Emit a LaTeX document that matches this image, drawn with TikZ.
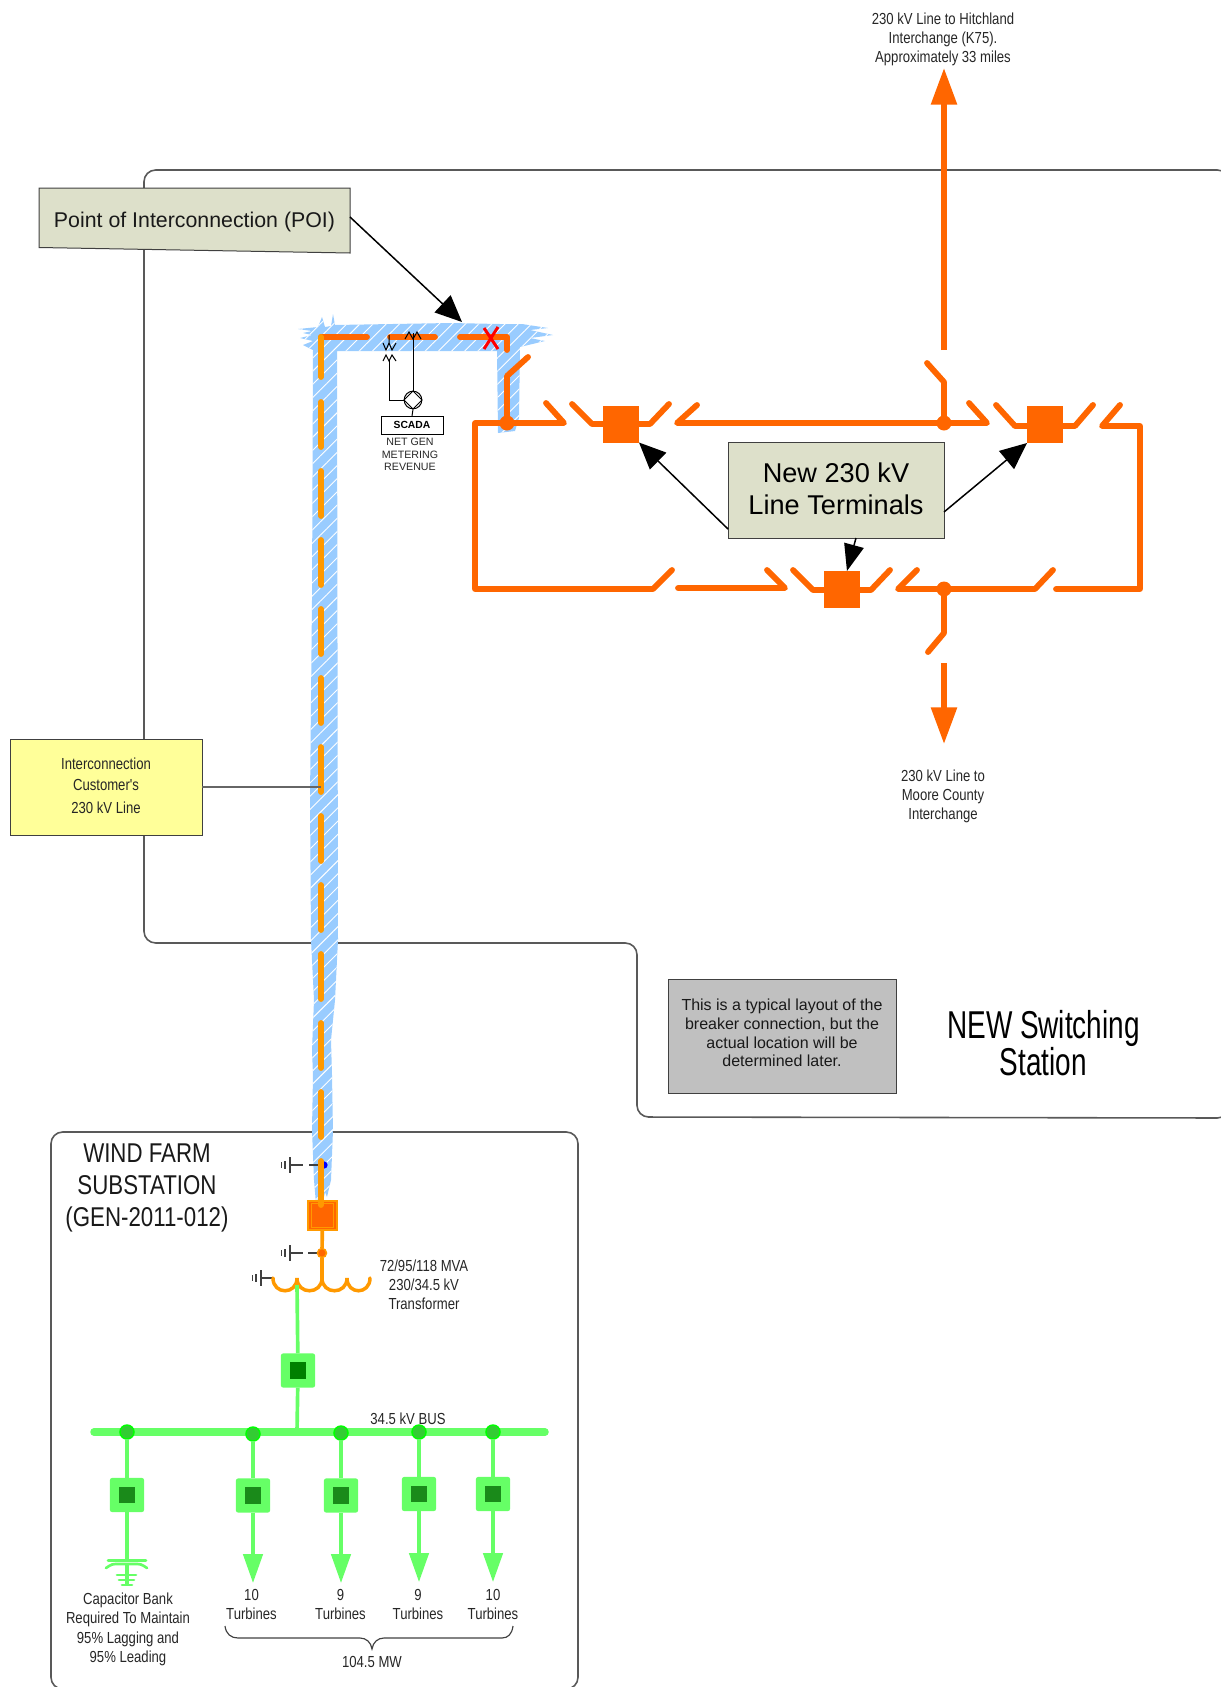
\documentclass[tikz,border=0pt]{standalone}
\usepackage{fontspec}
\setmainfont{Liberation Sans}
\newfontfamily\narrowfont[FakeStretch=0.82]{Liberation Sans}
\newfontfamily\headfont[FakeStretch=0.72]{Liberation Sans}
\usetikzlibrary{arrows.meta, patterns.meta, calc}

\definecolor{lineorange}{HTML}{FF6600}
\definecolor{lineamber}{HTML}{FF9900}
\definecolor{linegreen}{HTML}{66FF66}
\definecolor{coregreen}{HTML}{1A8A1A}
\definecolor{dotgreen}{HTML}{33CC33}
\definecolor{rowblue}{HTML}{99CCFF}
\definecolor{noteolive}{HTML}{DDE0CA}
\definecolor{noteyellow}{HTML}{FFFF99}
\definecolor{notegrey}{HTML}{C0C0C0}
\definecolor{framegrey}{HTML}{595959}

\tikzset{
  frameline/.style={draw=framegrey, line width=0.95pt, rounded corners=7pt},
  notebox/.style={draw=black!75, line width=0.55pt, inner sep=0, outer sep=0},
  smalltext/.style={font=\narrowfont\fontsize{9.6pt}{11.4pt}\selectfont, align=center, inner sep=0, text=black!85},
  bigtext/.style={font=\narrowfont\fontsize{16.3pt}{19.4pt}\selectfont, align=center, inner sep=0, text=black!90},
  hvbus/.style={draw=lineorange, line width=3.5pt, line cap=round, line join=round},
  amberline/.style={draw=lineamber, line width=3.5pt, line cap=round},
  greenline/.style={draw=linegreen, line width=2.2pt},
  pointer/.style={draw=black, line width=0.9pt, -{Triangle[length=16pt, width=14pt]}},
  feedhead/.style={-{Triangle[length=17.4pt, width=11.6pt]}},
  hvhead/.style={-{Triangle[length=22pt, width=15pt]}},
  hvbreaker/.style={fill=lineorange, inner sep=0, outer sep=0, minimum width=21.6pt, minimum height=22.2pt},
  hvdot/.style={circle, fill=lineorange, inner sep=0, outer sep=0, minimum size=9pt},
  lvbreaker/.style={fill=linegreen, rounded corners=1.5pt, inner sep=0, outer sep=0, minimum size=20.6pt},
  lvcore/.style={fill=coregreen, inner sep=0, minimum size=9.8pt},
  lvdot/.style={circle, fill=dotgreen, draw=green, line width=0.9pt, inner sep=0, outer sep=0, minimum size=8.4pt},
  thinwire/.style={draw=black, line width=0.6pt},
  gndwire/.style={draw=black!75, line width=0.75pt},
}

\begin{document}
\begin{tikzpicture}[x=0.6pt, y=-0.6pt]
\clip[use as bounding box] (0,0) rectangle (1221,1687);

% outlines of the two yards
\draw[frameline] (1229,215) -- (1229,170) -- (144,170) -- (144,943) -- (637,943) -- (637,1117) -- (1229,1118) -- (1229,1090);
\draw[frameline] (51,1689) -- (51,1132) -- (578,1132) -- (578,1689) -- cycle;

% hatched 230 kV customer line
\path[pattern={Lines[angle=45, distance=5.6pt, line width=0.55pt]}, pattern color=white, preaction={fill=rowblue}]
  (298,329) -- (318,327) -- (322,317) -- (325,327) -- (331,326) -- (333,314) -- (335,325) -- (450,323) -- (500,324) -- (522,324)
  -- (548,328) -- (530,330) -- (553,335) -- (530,338) -- (545,341) -- (520,347) -- (519,418) -- (515,431) -- (498,433) -- (497,351)
  -- (337,351) -- (338,940) -- (335,1000) -- (331,1040) -- (332,1075) -- (333,1130) -- (331,1180) -- (327,1197) -- (325,1192)
  -- (322,1207) -- (319,1194) -- (316,1204) -- (314,1180) -- (312,1130) -- (313,1075) -- (312,1050) -- (314,1000) -- (311,940)
  -- (310,800) -- (312,600) -- (313,350) -- (303,345) -- (313,341) -- (300,338) -- (312,335) -- (303,333) -- (312,331) -- cycle;

% joints of the ring bus
\foreach \cname/\cx/\cy in {
  nw/475/423, sw/475/589, ne/1140/426, se/1140/589,
  hookA/546/403, noseA/564/423, hookB/697/405, noseB/677/423,
  hookC/969/403, noseC/987/423, hookD/1120/405, noseD/1102/426,
  bladeA/672/570, kneeA/653/589, startE/678/588, noseE/785/588, hookE/767/570,
  hookF/917/570, noseF/898/589, kneeF/1035/589, bladeF/1053/570, startG/1056/589,
  wingA/572/404, elbowA/592/424, elbowB/650/424, wingB/669/404,
  wingC/996/405, elbowC/1015/426, elbowD/1075/426, wingD/1093/405,
  wingE/793/570, elbowE/813/590, elbowF/871/590, wingF/890/570,
  pivotP/507/376, tipP/528/357, pivotN/944/382, tipN/927/363,
  pivotS/944/633, tipS/928/652, hitchS/944/350, hitchE/944/68, mooreS/944/663, mooreE/944/744}
  {\coordinate (\cname) at (\cx,\cy);}

% ring bus
\draw[hvbus] (hookA) -- (noseA) -- (nw) -- (sw) -- (kneeA) -- (bladeA);
\draw[hvbus] (startE) -- (noseE) -- (hookE);
\draw[hvbus] (hookB) -- (noseB) -- (noseC) -- (hookC);
\draw[hvbus] (hookD) -- (noseD) -- (ne) -- (se) -- (startG);
\draw[hvbus] (hookF) -- (noseF) -- (kneeF) -- (bladeF);
\draw[hvbus] (wingA) -- (elbowA) -- (elbowB) -- (wingB);
\draw[hvbus] (wingC) -- (elbowC) -- (elbowD) -- (wingD);
\draw[hvbus] (wingE) -- (elbowE) -- (elbowF) -- (wingF);

% breakers and tee points
\node[hvbreaker] (bkWest) at (621,424) {};
\node[hvbreaker] (bkEast) at (1045,424.5) {};
\node[hvbreaker] (bkSouth) at (842,589.5) {};
\node[hvdot] (teeP) at (507,423) {};
\node[hvdot] (teeN) at (944,423) {};
\node[hvdot] (teeS) at (944,589) {};

\draw[hvbus] (teeP) -- (pivotP) -- (tipP);
\draw[hvbus] (teeN) -- (pivotN) -- (tipN);
\draw[hvbus] (teeS) -- (pivotS) -- (tipS);
\draw[hvbus, line cap=butt, hvhead] (hitchS) -- (hitchE);
\draw[hvbus, line cap=butt, hvhead] (mooreS) -- (mooreE);

% dashes of the customer line
\coordinate (cornerW) at (321,337);
\coordinate (dashA) at (367,337);
\coordinate (dashB) at (390,337);
\coordinate (dashC) at (435,337);
\coordinate (dashD) at (460,337);
\coordinate (cornerE) at (507,337);
\coordinate (stubE) at (507,350);
\draw[hvbus] (cornerW) -- (dashA);
\draw[hvbus] (dashB) -- (dashC);
\draw[hvbus] (dashD) -- (cornerE) -- (stubE);
\draw[amberline] (321,337) -- (321,377);
\foreach \k in {0,...,10}
  \draw[amberline] (321,{402+69*\k}) -- (321,{447+69*\k});

% red cross
\draw[draw=red, line width=1.8pt] (484,328) -- (498,349) (498,327) -- (484,349);

% metering
\node[draw=black, line width=0.55pt, inner sep=0, outer sep=0, minimum width=37.2pt, minimum height=10.8pt, font=\bfseries\fontsize{6.2pt}{7pt}\selectfont] (scada) at (412,425) {SCADA};
\node[circle, draw=black, line width=0.6pt, inner sep=0, minimum size=10.6pt] (meter) at (413,400) {};
\draw[thinwire] ($(meter.center)+(-9,0)$) -- ++(9,-9) -- ++(9,9) -- ++(-9,9) -- cycle;
\draw[thinwire] (meter.north) -- (413,333);
\draw[thinwire] (405,339) -- (409,332) -- (413,339) -- (417,332) -- (421,339);
\draw[thinwire] (389,335) -- (389,343) (383,343) -- (386,350) -- (389,343) -- (392,350) -- (396,343);
\draw[thinwire] (383,361) -- (386,355) -- (389,361) -- (392,355) -- (396,361);
\draw[thinwire] (389,360) -- (389,400) -- (meter.west);
\draw[thinwire] (meter.south) -- (scada.north);
\node[font=\fontsize{6.4pt}{7.5pt}\selectfont, align=center, inner sep=0, text=black!85] (netgen) at (410,454.5) {NET GEN\\METERING\\REVENUE};

% notes
\path[fill=noteolive, draw=black!75, line width=0.6pt] (39,188) -- (350,188) -- (350,253) -- (39,247.5) -- cycle;
\node[font=\fontsize{12.8pt}{15pt}\selectfont, inner sep=0, text=black!90] (poi) at (194.5,222) {Point of Interconnection (POI)};
\coordinate (poiout) at (350,217);
\coordinate (poitip) at (462,322);
\draw[pointer] (poiout) -- (poitip);

\node[notebox, fill=noteolive, minimum width=129.6pt, minimum height=57.6pt] (terminals) at (836,490) {};
\node[font=\fontsize{16.3pt}{19pt}\selectfont, align=center, inner sep=0] (terminaltext) at (836,489) {New 230 kV\\Line Terminals};
\coordinate (tmW) at (728,529);
\coordinate (tmE) at (944,512);
\coordinate (tmS) at (856,538);
\draw[pointer] (tmW) -- (bkWest.south east);
\draw[pointer] (tmE) -- (bkEast.south west);
\draw[pointer, -{Triangle[length=16pt, width=12pt]}] (tmS) -- (bkSouth.75);

\node[notebox, fill=noteyellow, minimum width=115.2pt, minimum height=57.6pt] (customer) at (106,787) {};
\node[smalltext] (customertext) at (106,785.5) {Interconnection\\[1.2pt]Customer's\\[2.4pt]230 kV Line};
\coordinate (customerline) at (321,787);
\draw[draw=black!60, line width=0.8pt] (customer) -- (customerline);

\node[notebox, fill=notegrey, minimum width=136.8pt, minimum height=68.4pt] (layout) at (782,1036) {};
\node[font=\fontsize{9.6pt}{11.3pt}\selectfont, align=center, inner sep=0, text=black!90] (layouttext) at (782,1033) {This is a typical layout of the\\breaker connection, but the\\actual location will be\\determined later.};
\node[font=\headfont\fontsize{23.3pt}{22.6pt}\selectfont, align=center, inner sep=0] (newstation) at (1043.5,1043) {NEW Switching\\Station};

\node[smalltext] (hitch) at (943,39) {230 kV Line to Hitchland\\Interchange (K75).\\Approximately 33 miles};
\node[smalltext] (moore) at (943,796) {230 kV Line to\\Moore County\\Interchange};

% wind farm substation
\node[bigtext] (farm) at (147,1188) {WIND FARM\\SUBSTATION\\(GEN-2011-012)};

\foreach \gx/\gy in {290/1165, 290/1253, 261/1278} {
  \draw[gndwire] (\gx,\gy-8) -- (\gx,\gy+8);
  \draw[gndwire] (\gx-5,\gy-4) -- (\gx-5,\gy+4);
  \draw[gndwire] (\gx-8.5,\gy-3) -- (\gx-8.5,\gy+3);
}
\draw[gndwire] (290,1165) -- (303,1165);
\draw[gndwire] (309,1165) -- (324,1165);
\draw[gndwire] (290,1253) -- (303,1253);
\draw[gndwire] (308,1253) -- (322,1253);
\draw[gndwire] (261,1278) -- (273,1278);

\node[circle, fill=blue, inner sep=0, minimum size=4.4pt] (tapblue) at (324,1165) {};
\draw[amberline] (321,1161) -- (321,1205);

\node[fill=lineorange, draw=lineamber, line width=1.3pt, inner sep=0, outer sep=0, minimum width=17pt, minimum height=17.8pt] (bkGen) at (322.5,1215.5) {};
\draw[draw=lineamber, line width=0.5pt] ($(bkGen.south west)+(3,-3)$) rectangle ($(bkGen.north east)+(-3,3)$);
\draw[amberline] (321,1175) -- (321,1205);
\node[circle, fill=lineorange, draw=lineamber, line width=0.9pt, inner sep=0, outer sep=0, minimum size=5.4pt] (tapgen) at (322,1253) {};
\coordinate (coilA) at (273,1278);
\coordinate (coilB) at (297,1278);
\coordinate (coilC) at (322,1278);
\coordinate (coilD) at (347,1278);
\coordinate (coilE) at (370,1278);
\draw[draw=lineamber, line width=2.2pt] (bkGen) -- (tapgen) -- (coilC);
\draw[draw=lineamber, line width=2.1pt, line cap=round] (coilA) .. controls +(0,17) and +(0,17) .. (coilB) .. controls +(0,17) and +(0,17) .. (coilC) .. controls +(0,17) and +(0,17) .. (coilD) .. controls +(0,17) and +(0,17) .. (coilE);
\node[smalltext] (xfmr) at (424,1285) {72/95/118 MVA\\230/34.5 kV\\Transformer};

% 34.5 kV side
\coordinate (busW) at (94,1432);
\coordinate (busE) at (545,1432);
\coordinate (busmid) at (297,1432);
\draw[draw=linegreen, line width=4.5pt, line cap=round] (busW) -- (busE);
\node[lvbreaker] (bkMain) at (298,1370.5) {};
\coordinate (coilout) at (297,1285);
\draw[greenline] (coilout) -- (bkMain);
\draw[greenline] (bkMain) -- (busmid);
\node[lvcore, fill=green!50!black] (coreMain) at (bkMain) {};
\node[smalltext] (buslabel) at (408,1419) {34.5 kV BUS};

\foreach \fname/\fx/\fy/\dy/\tip in {capA/127/1495/1432/1560, feedA/253/1495.5/1434/1583, feedB/341/1495.5/1433/1583, feedC/419/1494/1432/1582, feedD/493/1494/1432/1582} {
  \node[lvbreaker] (bk\fname) at (\fx,\fy) {};
  \node[lvcore] (core\fname) at (bk\fname) {};
  \node[lvdot] (dot\fname) at (\fx,\dy) {};
  \coordinate (end\fname) at (\fx,\tip);
  \draw[greenline] (dot\fname) -- (bk\fname);
}
\foreach \fname in {feedA, feedB, feedC, feedD}
  \draw[greenline, feedhead] (bk\fname) -- (end\fname);
\draw[greenline] (bkcapA) -- (endcapA);

% capacitor bank
\draw[draw=linegreen, line width=1.6pt, line cap=round] (108,1560.5) -- (146,1560.5);
\draw[draw=linegreen, line width=1.6pt, line cap=round] (106,1568) .. controls (112,1564) .. (119,1564) -- (134,1564) .. controls (141,1564) .. (147,1568);
\draw[greenline] (127,1564) -- (127,1584);
\draw[draw=linegreen, line width=1.6pt, line cap=round] (117,1575) -- (136,1575) (119,1580) -- (134,1580) (122,1585) -- (132,1585);
\node[smalltext] (capnote) at (128,1629.5) {Capacitor Bank\\[0.2pt]Required To Maintain\\[0.2pt]95\% Lagging and\\[0.2pt]95\% Leading};

\node[smalltext] (turbA) at (251.5,1604.5) {10\\Turbines};
\node[smalltext] (turbB) at (340.5,1604.5) {9\\Turbines};
\node[smalltext] (turbC) at (418,1604.5) {9\\Turbines};
\node[smalltext] (turbD) at (493,1604.5) {10\\Turbines};

\draw[draw=black!75, line width=0.7pt] (225,1626) .. controls (226,1634) and (231,1638) .. (238,1638) -- (360,1638) .. controls (366,1638) and (371,1642) .. (372,1649) .. controls (373,1642) and (378,1638) .. (384,1638) -- (502,1638) .. controls (508,1638) and (512,1634) .. (513,1626);
\node[smalltext] (mwlabel) at (372,1662) {104.5 MW};
\end{tikzpicture}
\end{document}
